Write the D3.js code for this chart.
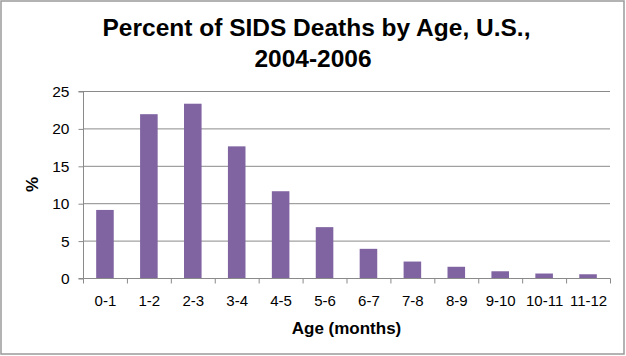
<!DOCTYPE html>
<html><head><meta charset="utf-8">
<script src="https://cdn.jsdelivr.net/npm/d3@7"></script>
<style>
html,body{margin:0;padding:0;background:#fff;}
svg{display:block;font-family:"Liberation Sans",Arial,sans-serif;}
</style></head>
<body>
<svg id="c" width="626" height="356"></svg>
<script>
const categories = ["0-1","1-2","2-3","3-4","4-5","5-6","6-7","7-8","8-9","9-10","10-11","11-12"];
const values = [9.1, 21.9, 23.3, 17.6, 11.6, 6.8, 3.9, 2.2, 1.5, 0.9, 0.6, 0.5];
const yTicks = [0, 5, 10, 15, 20, 25];
const titleLines = ["Percent of SIDS Deaths by Age, U.S.,", "2004-2006"];
const xTitle = "Age (months)";
const yTitle = "%";

const svg = d3.select("#c");
const W = 626, H = 356;
const plot = {left: 83, right: 610, top: 91, bottom: 278};

svg.append("rect").attr("x",1).attr("y",1).attr("width",W-3).attr("height",H-3)
  .attr("fill","#fff").attr("stroke","#9a9a9a").attr("stroke-width",1.5);

const x = d3.scaleBand().domain(categories).range([plot.left, plot.right]).paddingInner(0.6).paddingOuter(0.3);
const xb = d3.scaleBand().domain(categories).range([plot.left, plot.right]);
const y = d3.scaleLinear().domain([0, 25]).range([plot.bottom, plot.top]);

// gridlines
svg.append("g").selectAll("line").data(yTicks.filter(t=>t>0)).join("line")
  .attr("x1", plot.left).attr("x2", plot.right)
  .attr("y1", d=>y(d)+0.5).attr("y2", d=>y(d)+0.5)
  .attr("stroke","#8a8a8a").attr("stroke-width",1);

// bars
svg.append("g").selectAll("rect").data(values).join("rect")
  .attr("x", (d,i)=>x(categories[i]))
  .attr("width", x.bandwidth())
  .attr("y", d=>y(d))
  .attr("height", d=>y(0)-y(d))
  .attr("fill","#8064A2");

// y axis
const yAxis = d3.axisLeft(y).tickValues(yTicks).tickSize(5).tickPadding(9);
const gy = svg.append("g").attr("transform",`translate(${plot.left+0.5},0.5)`).call(yAxis);
gy.select(".domain").attr("stroke","#8a8a8a").attr("d",`M-5,${plot.bottom}H0V${plot.top}H-5`);
gy.selectAll(".tick line").attr("stroke","#8a8a8a");
gy.selectAll(".tick text").attr("font-size",15.5).attr("fill","#000").attr("font-family","Liberation Sans, Arial, sans-serif");

// x axis
const gx = svg.append("g").attr("transform",`translate(0.5,${plot.bottom+0.5})`);
gx.append("line").attr("x1",plot.left).attr("x2",plot.right).attr("y1",0).attr("y2",0).attr("stroke","#8a8a8a");
const bounds = categories.map(c=>xb(c)).concat([plot.right]);
gx.selectAll("line.t").data(bounds).join("line").attr("class","t")
  .attr("x1",d=>d).attr("x2",d=>d).attr("y1",0).attr("y2",5).attr("stroke","#8a8a8a");
gx.selectAll("text").data(categories).join("text")
  .attr("x", d=>xb(d)+xb.bandwidth()/2).attr("y", 27)
  .attr("text-anchor","middle").attr("font-size",15).attr("fill","#000").text(d=>d);

// titles
svg.append("text").attr("x",316.5).attr("y",36).attr("text-anchor","middle")
  .attr("font-size",24.5).attr("font-weight","bold").text(titleLines[0]);
svg.append("text").attr("x",313).attr("y",67).attr("text-anchor","middle")
  .attr("font-size",24.5).attr("font-weight","bold").text(titleLines[1]);

svg.append("text").attr("x",(plot.left+plot.right)/2).attr("y",334).attr("text-anchor","middle")
  .attr("font-size",17).attr("font-weight","bold").text(xTitle);
svg.append("text").attr("transform",`translate(38,${(plot.top+plot.bottom)/2}) rotate(-90)`)
  .attr("text-anchor","middle").attr("font-size",17).attr("font-weight","bold").text(yTitle);
</script>
</body></html>
